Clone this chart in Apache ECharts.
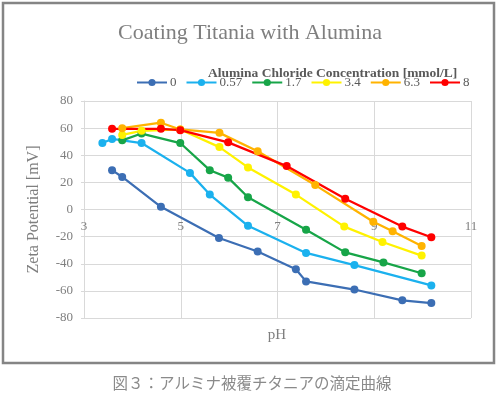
<!DOCTYPE html>
<html><head><meta charset="utf-8">
<script src="https://cdn.jsdelivr.net/npm/echarts@6/dist/echarts.min.js"></script>
<style>html,body{margin:0;padding:0;background:#fff}#c{width:500px;height:395px}</style>
</head><body><div id="c"></div>
<script>
const seriesNames = ['0', '0.57', '1.7', '3.4', '6.3', '8'];
const seriesColors = ['#3C6EB4', '#1BB1EE', '#17A548', '#FFF200', '#FFB300', '#FF0000'];
const s0 = [[3.58,29],[3.79,24],[4.59,2],[5.79,-21],[6.59,-31],[7.38,-44],[7.59,-53],[8.59,-59],[9.58,-67],[10.18,-69]];
const s057 = [[3.38,49],[3.58,52],[4.19,49],[5.19,27],[5.6,11],[6.39,-12],[7.59,-32],[8.59,-41],[10.18,-56]];
const s17 = [[3.79,51],[4.19,56],[4.99,49],[5.6,29],[5.98,23.5],[6.39,9],[7.59,-15],[8.4,-31.6],[9.19,-39],[9.98,-47]];
const s34 = [[3.79,55],[4.19,58],[4.99,59],[5.8,46],[6.39,31],[7.38,11],[8.38,-12.6],[9.17,-24],[9.98,-34]];
const s63 = [[3.79,60],[4.59,64],[4.99,59],[5.8,56.5],[6.59,43],[7.78,18],[8.98,-9],[9.38,-16],[9.98,-27]];
const s8 = [[3.58,59.5],[4.59,59.5],[4.99,58.5],[5.98,49.5],[7.19,32],[8.4,8],[9.58,-12.6],[10.18,-20.5]];
const allData = [s0, s057, s17, s34, s63, s8];
const xMin = 3, xMax = 11, xStep = 2;
const yMin = -80, yMax = 80, yStep = 20;
const titleText = 'Coating Titania with Alumina';
const legendTitle = 'Alumina Chloride Concentration [mmol/L]';
const yName = 'Zeta Potential [mV]';
const xName = 'pH';
const caption = '図３：アルミナ被覆チタニアの滴定曲線';

const serif = '"Liberation Serif", "DejaVu Serif", serif';
const gridTop = 101, gridBottom = 77, H = 395;
const plotH = H - gridTop - gridBottom;
// place the x axis where y = 0 (fraction of the y range)
const zeroOffset = -plotH * (0 - yMin) / (yMax - yMin);
const chart = echarts.init(document.getElementById('c'), null, {renderer: 'canvas'});
chart.setOption({
  animation: false,
  backgroundColor: '#fff',
  title: [
    {text: titleText, left: 'center', top: 17, textStyle: {fontFamily: serif, fontSize: 22, fontWeight: 'normal', color: '#7f7f7f'}},
    {text: legendTitle, left: 203, top: 62, textStyle: {fontFamily: serif, fontSize: 13.5, fontWeight: 'bold', color: '#595959'}}
  ],
  legend: {
    data: seriesNames, left: 136, top: 76, padding: 0, itemWidth: 30, itemHeight: 9, itemGap: 9,
    textStyle: {fontFamily: serif, fontSize: 13, color: '#595959', padding: [0,0,0,-2]}
  },
  grid: {left: 84, right: 29, top: gridTop, bottom: gridBottom},
  xAxis: {
    type: 'value', min: xMin, max: xMax, interval: xStep, offset: zeroOffset,
    axisLine: {onZero: false, lineStyle: {color: '#d9d9d9'}},
    axisTick: {show: false},
    axisLabel: {fontFamily: serif, fontSize: 13, color: '#7f7f7f', margin: 11},
    splitLine: {show: true, lineStyle: {color: '#d9d9d9', width: 1}}
  },
  yAxis: {
    type: 'value', min: yMin, max: yMax, interval: yStep,
    name: yName, nameLocation: 'middle', nameRotate: 90, nameGap: 42,
    nameTextStyle: {fontFamily: serif, fontSize: 16, color: '#7f7f7f'},
    axisLine: {show: true, lineStyle: {color: '#d9d9d9'}},
    axisTick: {show: true, length: 3, lineStyle: {color: '#d9d9d9'}},
    axisLabel: {fontFamily: serif, fontSize: 13, color: '#7f7f7f', margin: 11},
    splitLine: {show: true, lineStyle: {color: '#d9d9d9', width: 1}}
  },
  graphic: [
    {type: 'rect', shape: {x: 3, y: 3, width: 491, height: 360}, style: {fill: 'none', stroke: '#858585', lineWidth: 2.5}, z: 100},
    {type: 'text', x: 277, y: 335, style: {text: xName, font: '15px ' + serif, fill: '#7f7f7f', align: 'center', verticalAlign: 'middle'}},
    {type: 'text', x: 252, y: 383, style: {text: caption, font: '15.5px "Noto Sans CJK JP"', fill: '#8a8a8a', align: 'center', verticalAlign: 'middle'}}
  ],
  series: seriesNames.map((n, i) => ({
    name: n, type: 'line', data: allData[i], symbol: 'circle', symbolSize: 8,
    color: seriesColors[i], lineStyle: {width: 2.25, color: seriesColors[i]},
    itemStyle: {color: seriesColors[i]}
  }))
});
</script></body></html>
